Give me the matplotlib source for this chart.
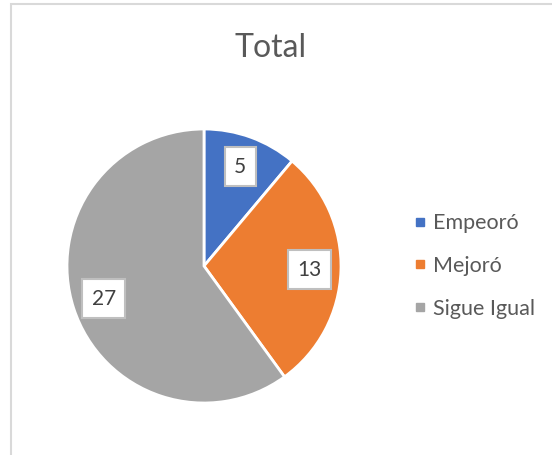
import numpy as np
import matplotlib
matplotlib.use("Agg")
import matplotlib.pyplot as plt
from matplotlib.patches import Rectangle
from matplotlib.lines import Line2D

plt.rcParams['font.family'] = ['Lato', 'DejaVu Sans']

categories = ["Empeoró", "Mejoró", "Sigue Igual"]
values = [5, 13, 27]
colors = ["#4472C4", "#ED7D31", "#A5A5A5"]
title = "Total"
text_color = "#595959"

W, H = 552, 455
fig = plt.figure(figsize=(W / 100, H / 100), dpi=100)

# chart area border
fig.patches.append(Rectangle((11 / W, -0.05), 1.0, (H - 4) / H + 0.05,
                             transform=fig.transFigure, fill=False,
                             edgecolor="#D9D9D9", linewidth=1.5))

# pie axes: centre and radius in pixels
cx, cy, r = 204, 266, 137
ax = fig.add_axes([(cx - r) / W, (H - cy - r) / H, 2 * r / W, 2 * r / H])
wedges, _ = ax.pie(values, colors=colors, startangle=90, counterclock=False,
                   radius=1.0, wedgeprops=dict(edgecolor="white", linewidth=2))
ax.set_xlim(-1, 1)
ax.set_ylim(-1, 1)
ax.set_aspect("equal")
ax.axis("off")

# value labels inside slices
for w, v in zip(wedges, values):
    ang = np.deg2rad((w.theta1 + w.theta2) / 2)
    rr = 0.77
    ax.text(rr * np.cos(ang), rr * np.sin(ang), str(v), ha="center", va="center",
            fontsize=15, color="#404040",
            bbox=dict(boxstyle="square,pad=0.45", facecolor="white",
                      edgecolor="#BFBFBF", linewidth=1.5))

fig.text(271 / W, 1 - 48 / H, title, ha="center", va="center",
         fontsize=23, color=text_color)

handles = [Line2D([], [], linestyle="none", marker="s", markersize=6,
                  markerfacecolor=c, markeredgecolor=c) for c in colors]
leg = fig.legend(handles, categories, loc="center left",
                 bbox_to_anchor=(394 / W, 1 - 266 / H), frameon=False,
                 fontsize=15.5, labelcolor=text_color, handlelength=0.6,
                 handletextpad=0.3, labelspacing=1.05)

fig.savefig("out.png", dpi=100, facecolor="white")
